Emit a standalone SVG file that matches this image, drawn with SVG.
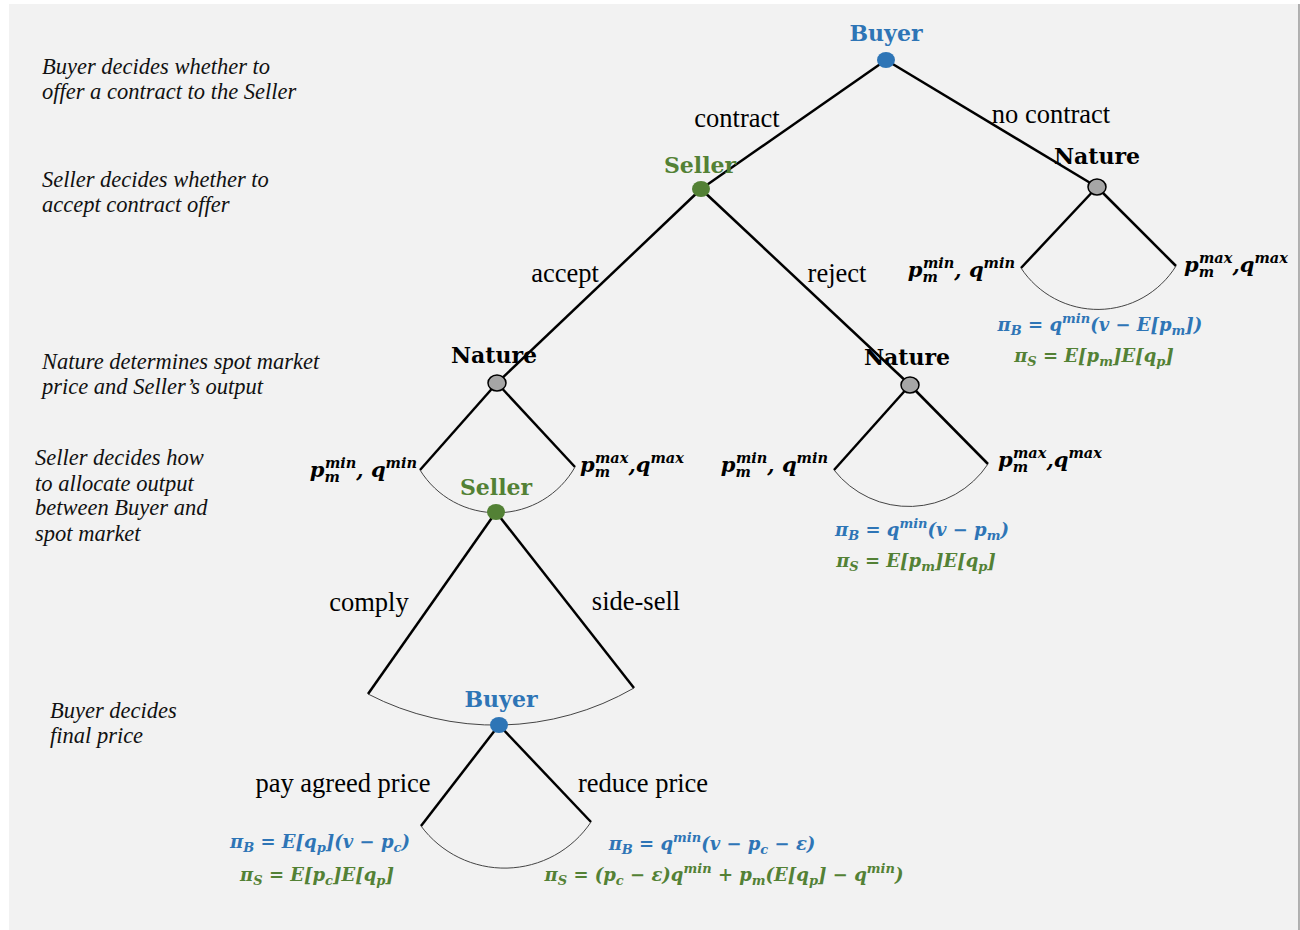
<svg xmlns="http://www.w3.org/2000/svg" width="1300" height="930" viewBox="0 0 1300 930">
<style>
.lbl{font-family:"Liberation Serif",serif;font-size:26.5px;fill:#000}
.note{font-family:"Liberation Serif",serif;font-style:italic;font-size:22.5px;fill:#111}
.nl{font-family:"DejaVu Serif",serif;font-weight:bold;font-size:22px;text-anchor:middle}
.m{font-family:"DejaVu Serif",serif;font-weight:bold;font-style:italic;font-size:18px;fill:#000}
.pl{font-family:"DejaVu Serif",serif;font-weight:bold;font-style:italic;font-size:21px;fill:#000}
.s{font-size:13px}
.s2{font-size:14.5px}
.blue{fill:#2e75b6}
.green{fill:#538135}
.edge{stroke:#000;stroke-width:2.5;fill:none}
.arc{stroke:#444;stroke-width:1;fill:none}
.nb{fill:#2e75b6}
.ns{fill:#538135}
.nn{fill:#a6a6a6;stroke:#000;stroke-width:1.5}
</style>
<rect x="9" y="4" width="1290" height="926" fill="#f2f2f2"/>
<line x1="1299" y1="4" x2="1299" y2="930" stroke="#999" stroke-width="1.5"/>

<g id="notes">
<text class="note" x="42" y="74">Buyer decides whether to</text>
<text class="note" x="42" y="99">offer a contract to the Seller</text>
<text class="note" x="42" y="187">Seller decides whether to</text>
<text class="note" x="42" y="212">accept contract offer</text>
<text class="note" x="42" y="369">Nature determines spot market</text>
<text class="note" x="42" y="394">price and Seller’s output</text>
<text class="note" x="35" y="465">Seller decides how</text>
<text class="note" x="35" y="491">to allocate output</text>
<text class="note" x="35" y="515">between Buyer and</text>
<text class="note" x="35" y="541">spot market</text>
<text class="note" x="50" y="718">Buyer decides</text>
<text class="note" x="50" y="743">final price</text>
</g>

<g id="connectors">
<line class="edge" x1="886" y1="60" x2="701" y2="189"/>
<line class="edge" x1="886" y1="60" x2="1097" y2="187"/>
<line class="edge" x1="1097" y1="187" x2="1021" y2="268"/>
<line class="edge" x1="1097" y1="187" x2="1176" y2="266"/>
<path class="arc" d="M1021,268 A92,92 0 0 0 1176,266"/>
<line class="edge" x1="701" y1="189" x2="497" y2="383"/>
<line class="edge" x1="701" y1="189" x2="910" y2="385"/>
<line class="edge" x1="497" y1="383" x2="420" y2="470"/>
<line class="edge" x1="497" y1="383" x2="575" y2="467"/>
<path class="arc" d="M420,470 A90,90 0 0 0 575,467"/>
<line class="edge" x1="910" y1="385" x2="834" y2="470"/>
<line class="edge" x1="910" y1="385" x2="988" y2="464"/>
<path class="arc" d="M834,470 A95,95 0 0 0 988,464"/>
<line class="edge" x1="496" y1="512" x2="368" y2="694"/>
<line class="edge" x1="496" y1="512" x2="634" y2="688"/>
<path class="arc" d="M368,694 A277,277 0 0 0 634,688"/>
<line class="edge" x1="499" y1="725" x2="421" y2="826"/>
<line class="edge" x1="499" y1="725" x2="591" y2="822"/>
<path class="arc" d="M421,826 A104,104 0 0 0 591,822"/>
<text class="lbl" x="737" y="127" text-anchor="middle">contract</text>
<text class="lbl" x="1051" y="123" text-anchor="middle">no contract</text>
<text class="lbl" x="565" y="282" text-anchor="middle">accept</text>
<text class="lbl" x="837" y="282" text-anchor="middle">reject</text>
<text class="lbl" x="369" y="611" text-anchor="middle">comply</text>
<text class="lbl" x="636" y="610" text-anchor="middle">side-sell</text>
<text class="lbl" x="343" y="792" text-anchor="middle">pay agreed price</text>
<text class="lbl" x="643" y="792" text-anchor="middle">reduce price</text>
</g>

<g id="node-buyer-root">
<text class="nl blue" x="886" y="41">Buyer</text>
<ellipse class="nb" cx="886" cy="60" rx="9" ry="8"/>
</g>
<g id="node-seller-1">
<text class="nl green" x="700" y="173">Seller</text>
<ellipse class="ns" cx="701" cy="189" rx="9" ry="8"/>
</g>
<g id="node-nature-nocontract">
<text class="nl" x="1097" y="164">Nature</text>
<ellipse class="nn" cx="1097" cy="187" rx="9" ry="8"/>
</g>
<g id="node-nature-accept">
<text class="nl" x="494" y="363">Nature</text>
<ellipse class="nn" cx="497" cy="383" rx="9" ry="8"/>
</g>
<g id="node-nature-reject">
<text class="nl" x="907" y="365">Nature</text>
<ellipse class="nn" cx="910" cy="385" rx="9" ry="8"/>
</g>
<g id="node-seller-2">
<text class="nl green" x="496" y="495">Seller</text>
<ellipse class="ns" cx="496" cy="512" rx="9" ry="8"/>
</g>
<g id="node-buyer-final">
<text class="nl blue" x="501" y="707">Buyer</text>
<ellipse class="nb" cx="499" cy="725" rx="9" ry="8"/>
</g>

<g id="outcomes">
<text class="pl" x="1015" y="277" text-anchor="end">p<tspan class="s2" dy="5">m</tspan><tspan class="s2" dx="-15" dy="-14">min</tspan><tspan dy="9">, q</tspan><tspan class="s2" dy="-9">min</tspan></text>
<text class="pl" x="1184" y="272">p<tspan class="s2" dy="5">m</tspan><tspan class="s2" dx="-15" dy="-14">max</tspan><tspan dy="9">,q</tspan><tspan class="s2" dy="-9">max</tspan></text>
<text class="pl" x="417" y="477" text-anchor="end">p<tspan class="s2" dy="5">m</tspan><tspan class="s2" dx="-15" dy="-14">min</tspan><tspan dy="9">, q</tspan><tspan class="s2" dy="-9">min</tspan></text>
<text class="pl" x="580" y="472">p<tspan class="s2" dy="5">m</tspan><tspan class="s2" dx="-15" dy="-14">max</tspan><tspan dy="9">,q</tspan><tspan class="s2" dy="-9">max</tspan></text>
<text class="pl" x="828" y="472" text-anchor="end">p<tspan class="s2" dy="5">m</tspan><tspan class="s2" dx="-15" dy="-14">min</tspan><tspan dy="9">, q</tspan><tspan class="s2" dy="-9">min</tspan></text>
<text class="pl" x="998" y="467">p<tspan class="s2" dy="5">m</tspan><tspan class="s2" dx="-15" dy="-14">max</tspan><tspan dy="9">,q</tspan><tspan class="s2" dy="-9">max</tspan></text>

<text class="m blue" x="1100" y="331" text-anchor="middle">π<tspan class="s" dy="4">B</tspan><tspan dy="-4"> = q</tspan><tspan class="s" dy="-8">min</tspan><tspan dy="8">(v − E[p</tspan><tspan class="s" dy="4">m</tspan><tspan dy="-4">])</tspan></text>
<text class="m green" x="1094" y="362" text-anchor="middle">π<tspan class="s" dy="4">S</tspan><tspan dy="-4"> = E[p</tspan><tspan class="s" dy="4">m</tspan><tspan dy="-4">]E[q</tspan><tspan class="s" dy="4">p</tspan><tspan dy="-4">]</tspan></text>

<text class="m blue" x="922" y="536" text-anchor="middle">π<tspan class="s" dy="4">B</tspan><tspan dy="-4"> = q</tspan><tspan class="s" dy="-8">min</tspan><tspan dy="8">(v − p</tspan><tspan class="s" dy="4">m</tspan><tspan dy="-4">)</tspan></text>
<text class="m green" x="916" y="567" text-anchor="middle">π<tspan class="s" dy="4">S</tspan><tspan dy="-4"> = E[p</tspan><tspan class="s" dy="4">m</tspan><tspan dy="-4">]E[q</tspan><tspan class="s" dy="4">p</tspan><tspan dy="-4">]</tspan></text>

<text class="m blue" x="320" y="848" text-anchor="middle">π<tspan class="s" dy="4">B</tspan><tspan dy="-4"> = E[q</tspan><tspan class="s" dy="4">p</tspan><tspan dy="-4">](v − p</tspan><tspan class="s" dy="4">c</tspan><tspan dy="-4">)</tspan></text>
<text class="m green" x="317" y="881" text-anchor="middle">π<tspan class="s" dy="4">S</tspan><tspan dy="-4"> = E[p</tspan><tspan class="s" dy="4">c</tspan><tspan dy="-4">]E[q</tspan><tspan class="s" dy="4">p</tspan><tspan dy="-4">]</tspan></text>

<text class="m blue" x="712" y="850" text-anchor="middle">π<tspan class="s" dy="4">B</tspan><tspan dy="-4"> = q</tspan><tspan class="s" dy="-8">min</tspan><tspan dy="8">(v − p</tspan><tspan class="s" dy="4">c</tspan><tspan dy="-4"> − ε)</tspan></text>
<text class="m green" x="724" y="881" text-anchor="middle">π<tspan class="s" dy="4">S</tspan><tspan dy="-4"> = (p</tspan><tspan class="s" dy="4">c</tspan><tspan dy="-4"> − ε)q</tspan><tspan class="s" dy="-8">min</tspan><tspan dy="8"> + p</tspan><tspan class="s" dy="4">m</tspan><tspan dy="-4">(E[q</tspan><tspan class="s" dy="4">p</tspan><tspan dy="-4">] − q</tspan><tspan class="s" dy="-8">min</tspan><tspan dy="8">)</tspan></text>
</g>
</svg>
